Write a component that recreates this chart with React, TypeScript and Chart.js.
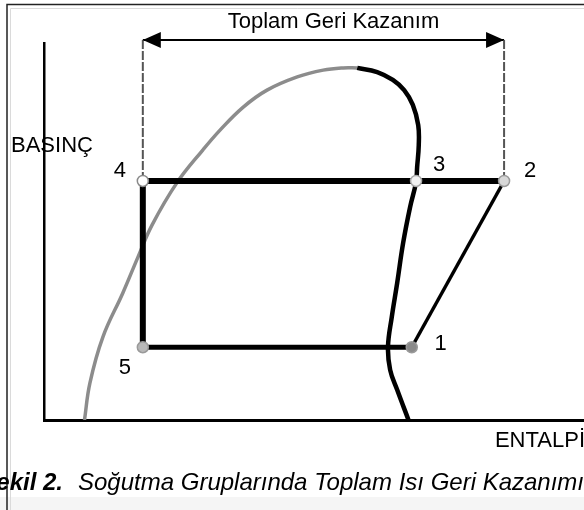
import { useEffect, useRef } from 'react';
import { Chart, registerables } from 'chart.js';

Chart.register(...registerables);

// Refrigeration cycle state points on the pressure–enthalpy plane (relative units)
const cycleLabels = ['1', '2', '3', '4', '5'];
const cycleEnthalpy = [68.1, 85.2, 68.9, 18.3, 18.3];
const cyclePressure = [19.3, 63.4, 63.4, 63.4, 19.3];

// Saturated liquid line (left side of the dome)
const liquidEnthalpy = [7.5, 8.5, 10.9, 14.6, 17.4, 20.0, 24.6, 29.4, 32.6, 36.9, 41.3, 46.9, 51.7, 55.4, 58.0];
const liquidPressure = [0, 9.8, 22.0, 33.7, 43.2, 51.7, 62.9, 71.6, 76.9, 83.0, 87.5, 91.0, 92.8, 93.4, 93.4];

// Saturated vapour line (right side of the dome)
const vapourEnthalpy = [58.0, 61.7, 64.6, 66.7, 68.3, 69.3, 69.4, 69.1, 68.9, 67.8, 66.5, 65.4, 64.4, 63.7, 64.1, 65.4, 67.5];
const vapourPressure = [93.4, 92.3, 90.2, 87.5, 83.6, 78.2, 72.9, 67.1, 63.1, 56.5, 46.9, 36.3, 27.3, 19.4, 13.3, 8.0, 0];

// Level of the total heat recovery dimension arrow
const recoveryLevel = 100.8;

const recoveryTitle = 'Toplam Geri Kazanım';
const pressureLabel = 'BASINÇ';
const enthalpyLabel = 'ENTALPİ';
const captionLead = 'Şekil 2.';
const captionText = 'Soğutma Gruplarında Toplam Isı Geri Kazanımı';

const FONT = "'Liberation Sans', Arial, Helvetica, sans-serif";

// marker look per state point
const markerFill = ['#8a8a8a', '#d8d8d8', '#f2f2f2', '#ffffff', '#b8b8b8'];
const markerStroke = ['#9a9a9a', '#9a9a9a', '#a8a8a8', '#8a8a8a', '#9a9a9a'];
// label placement around each state point, in pixels (dx to text centre, dy to baseline)
const labelOffset: Record<string, [number, number]> = {
  '1': [29, 3],
  '2': [26, -4],
  '3': [23, -10],
  '4': [-23, -4],
  '5': [-18, 27],
};

const pt = (label: string) => {
  const i = cycleLabels.indexOf(label);
  return { x: cycleEnthalpy[i], y: cyclePressure[i] };
};

const segment = (pts: { x: number; y: number }[], width: number, color = '#000', extra: any = {}) => ({
  data: pts,
  showLine: true,
  borderColor: color,
  borderWidth: width,
  pointRadius: 0,
  pointHoverRadius: 0,
  fill: false,
  ...extra,
});

const decorPlugin = {
  id: 'diagramDecor',
  beforeDraw(chart: any) {
    const { ctx, width, height } = chart;
    ctx.save();
    ctx.fillStyle = '#ffffff';
    ctx.fillRect(0, 0, width, height);
    ctx.fillStyle = '#f5f5f5';
    ctx.fillRect(0, 497, width, height - 497);
    // page frame
    ctx.strokeStyle = '#dadada';
    ctx.lineWidth = 1;
    ctx.beginPath();
    ctx.moveTo(10.5, height);
    ctx.lineTo(10.5, 8.5);
    ctx.lineTo(width, 8.5);
    ctx.stroke();
    ctx.strokeStyle = '#222';
    ctx.lineWidth = 1.5;
    ctx.beginPath();
    ctx.moveTo(7, height);
    ctx.lineTo(7, 4.5);
    ctx.lineTo(width, 4.5);
    ctx.stroke();
    ctx.restore();
  },
  afterDatasetsDraw(chart: any) {
    const { ctx } = chart;
    const arrowIdx = chart.data.datasets.findIndex((d: any) => d.id === 'recovery');
    const arrow = chart.getDatasetMeta(arrowIdx).data;
    const a = arrow[0];
    const b = arrow[arrow.length - 1];
    const head = (x: number, y: number, dir: number) => {
      ctx.beginPath();
      ctx.moveTo(x, y);
      ctx.lineTo(x - dir * 18, y - 8);
      ctx.lineTo(x - dir * 18, y + 8);
      ctx.closePath();
      ctx.fill();
    };
    ctx.save();
    ctx.fillStyle = '#000';
    head(a.x, a.y, -1);
    head(b.x, b.y, 1);

    // title over the arrow
    ctx.font = `22px ${FONT}`;
    ctx.textAlign = 'center';
    ctx.textBaseline = 'alphabetic';
    ctx.fillText(recoveryTitle, (a.x + b.x) / 2 + 10, a.y - 12);

    // state point numbers
    const xs = chart.scales.x;
    const ys = chart.scales.y;
    cycleLabels.forEach((lab, i) => {
      const px = xs.getPixelForValue(cycleEnthalpy[i]);
      const py = ys.getPixelForValue(cyclePressure[i]);
      const [dx, dy] = labelOffset[lab];
      ctx.fillText(lab, px + dx, py + dy);
    });

    // axis names
    ctx.textAlign = 'left';
    ctx.fillText(pressureLabel, 11, 152);
    ctx.textAlign = 'right';
    ctx.fillText(enthalpyLabel, 585, 447);

    // figure caption
    ctx.font = `italic bold 24px ${FONT}`;
    ctx.textAlign = 'right';
    ctx.fillText(captionLead, 63, 490);
    ctx.font = `italic 24px ${FONT}`;
    ctx.textAlign = 'left';
    ctx.fillText(captionText, 78, 490);
    ctx.restore();
  },
};

export default function App() {
  const canvasRef = useRef<HTMLCanvasElement | null>(null);

  useEffect(() => {
    if (!canvasRef.current) return;
    const p1 = pt('1');
    const p2 = pt('2');
    const p3 = pt('3');
    const p4 = pt('4');
    const p5 = pt('5');

    const liquid = liquidEnthalpy.map((h, i) => ({ x: h, y: liquidPressure[i] }));
    const vapour = vapourEnthalpy.map((h, i) => ({ x: h, y: vapourPressure[i] }));

    const chart = new Chart(canvasRef.current, {
      type: 'scatter',
      data: {
        datasets: [
          {
            data: cycleLabels.map((l) => pt(l)),
            showLine: false,
            pointRadius: 5.5,
            pointHoverRadius: 5.5,
            pointBorderWidth: 1.5,
            pointBackgroundColor: markerFill,
            pointBorderColor: markerStroke,
            clip: false,
          } as any,
          segment([p1, p2], 3.5),
          segment([p4, p3, p2], 6),
          segment([p4, p5], 6),
          segment([p5, p1], 5),
          segment(vapour, 4.5, '#000', { tension: 0.4 }),
          segment(liquid, 3.5, '#8c8c8c', { tension: 0.4 }),
          segment([p4, { x: p4.x, y: recoveryLevel }], 2, '#555', { borderDash: [9, 2], clip: false }),
          segment([p2, { x: p2.x, y: recoveryLevel }], 2, '#555', { borderDash: [9, 2], clip: false }),
          segment([{ x: p4.x, y: recoveryLevel }, { x: p2.x, y: recoveryLevel }], 2, '#000', {
            clip: false,
            id: 'recovery',
          }),
        ] as any,
      },
      options: {
        responsive: false,
        animation: false,
        events: [],
        layout: {
          autoPadding: false,
          padding: { left: 44, top: 43, right: 0, bottom: 90 },
        },
        plugins: {
          legend: { display: false },
          tooltip: { enabled: false },
          title: { display: false },
        },
        scales: {
          x: {
            type: 'linear',
            min: 0,
            max: 100,
            ticks: { display: false },
            grid: { display: false, drawTicks: false },
            border: { display: true, color: '#000', width: 3 },
          },
          y: {
            type: 'linear',
            min: 0,
            max: 100,
            ticks: { display: false },
            grid: { display: false, drawTicks: false },
            border: { display: true, color: '#000', width: 2.5 },
          },
        },
      } as any,
      plugins: [decorPlugin],
    });

    return () => chart.destroy();
  }, []);

  return (
    <div style={{ position: 'absolute', left: 0, top: 0, width: 584, height: 510 }}>
      <canvas ref={canvasRef} width={584} height={510} style={{ display: 'block' }} />
    </div>
  );
}
